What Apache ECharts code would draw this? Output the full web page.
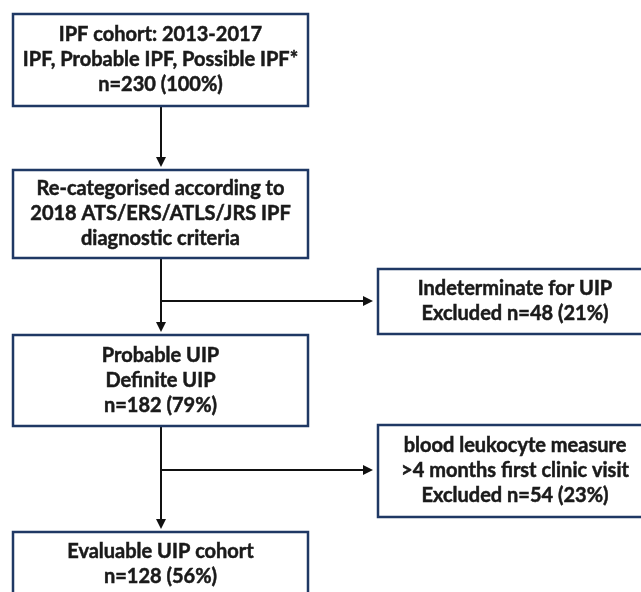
<!DOCTYPE html>
<html><head><meta charset="utf-8">
<script src="https://cdn.jsdelivr.net/npm/echarts@6/dist/echarts.min.js"></script>
<style>html,body{margin:0;padding:0;background:#fff}#c{width:641px;height:592px}</style>
</head><body><div id="c"></div>
<script>
// ---- data ----
const mainStageTitles = [
  ['IPF cohort: 2013-2017', 'IPF, Probable IPF, Possible IPF*'],
  ['Re-categorised according to', '2018 ATS/ERS/ATLS/JRS IPF', 'diagnostic criteria'],
  ['Probable UIP', 'Definite UIP'],
  ['Evaluable UIP cohort']
];
const mainCounts = [230, null, 182, 128];
const mainPercents = [100, null, 79, 56];
const exclusionTitles = [
  ['Indeterminate for UIP'],
  ['blood leukocyte measure', '>4 months first clinic visit']
];
const excludedCounts = [48, 54];
const excludedPercents = [21, 23];

// ---- layout (positions, not data) ----
const mainBoxes = [[13, 14, 308, 106], [13, 170, 308, 258], [13, 335, 308, 426], [13, 532, 308, 596]];
const sideBoxes = [[378, 269, 652, 334], [378, 425, 652, 517]];
const trunkX = 161;
const branchY = [301, 470];
const arrows = [
  [trunkX, 106, trunkX, 167],
  [trunkX, 258, trunkX, 332],
  [trunkX, branchY[0], 373, branchY[0]],
  [trunkX, 426, trunkX, 529],
  [trunkX, branchY[1], 373, branchY[1]]
];

function mainText(i) {
  const lines = mainStageTitles[i].slice();
  if (mainCounts[i] != null) lines.push('n=' + mainCounts[i] + ' (' + mainPercents[i] + '%)');
  return lines.join('\n');
}
function sideText(i) {
  const lines = exclusionTitles[i].slice();
  lines.push('Excluded n=' + excludedCounts[i] + ' (' + excludedPercents[i] + '%)');
  return lines.join('\n');
}

const boxData = [];
mainBoxes.forEach((b, i) => boxData.push({ value: b, label: mainText(i) }));
sideBoxes.forEach((b, i) => boxData.push({ value: b, label: sideText(i) }));

const chart = echarts.init(document.getElementById('c'), null, { renderer: 'canvas' });

function renderBox(params, api) {
  const p0 = api.coord([api.value(0), api.value(1)]);
  const p1 = api.coord([api.value(2), api.value(3)]);
  const txt = boxData[params.dataIndex].label;
  return {
    type: 'group',
    children: [
      { type: 'rect', shape: { x: p0[0], y: p0[1], width: p1[0] - p0[0], height: p1[1] - p0[1] },
        style: { fill: '#ffffff', stroke: '#1f3864', lineWidth: 2.5 } },
      { type: 'text', x: (p0[0] + p1[0]) / 2, y: (p0[1] + p1[1]) / 2,
        style: { text: txt, fill: '#1a1a1a', fontSize: 20, fontWeight: 'bold', fontFamily: 'Lato',
                 stroke: '#1a1a1a', lineWidth: 0.5,
                 align: 'center', verticalAlign: 'middle', lineHeight: 25 } }
    ]
  };
}

function renderArrow(params, api) {
  const a = api.coord([api.value(0), api.value(1)]);
  const b = api.coord([api.value(2), api.value(3)]);
  const dx = b[0] - a[0], dy = b[1] - a[1];
  const len = Math.sqrt(dx * dx + dy * dy);
  const ux = dx / len, uy = dy / len;
  const hl = 10, hw = 5;
  const base = [b[0] - ux * hl, b[1] - uy * hl];
  return {
    type: 'group',
    children: [
      { type: 'line', shape: { x1: a[0], y1: a[1], x2: base[0], y2: base[1] },
        style: { stroke: '#111111', lineWidth: 2 } },
      { type: 'polygon', shape: { points: [b, [base[0] - uy * hw, base[1] + ux * hw], [base[0] + uy * hw, base[1] - ux * hw]] },
        style: { fill: '#111111' } }
    ]
  };
}

chart.setOption({
  animation: false,
  grid: { left: 0, right: 0, top: 0, bottom: 0 },
  xAxis: { type: 'value', min: 0, max: 641, show: false },
  yAxis: { type: 'value', min: 0, max: 592, inverse: true, show: false },
  series: [
    { type: 'custom', renderItem: renderArrow, data: arrows, clip: false, silent: true },
    { type: 'custom', renderItem: renderBox, data: boxData.map(d => d.value), clip: false, silent: true }
  ]
});
</script>
</body></html>
